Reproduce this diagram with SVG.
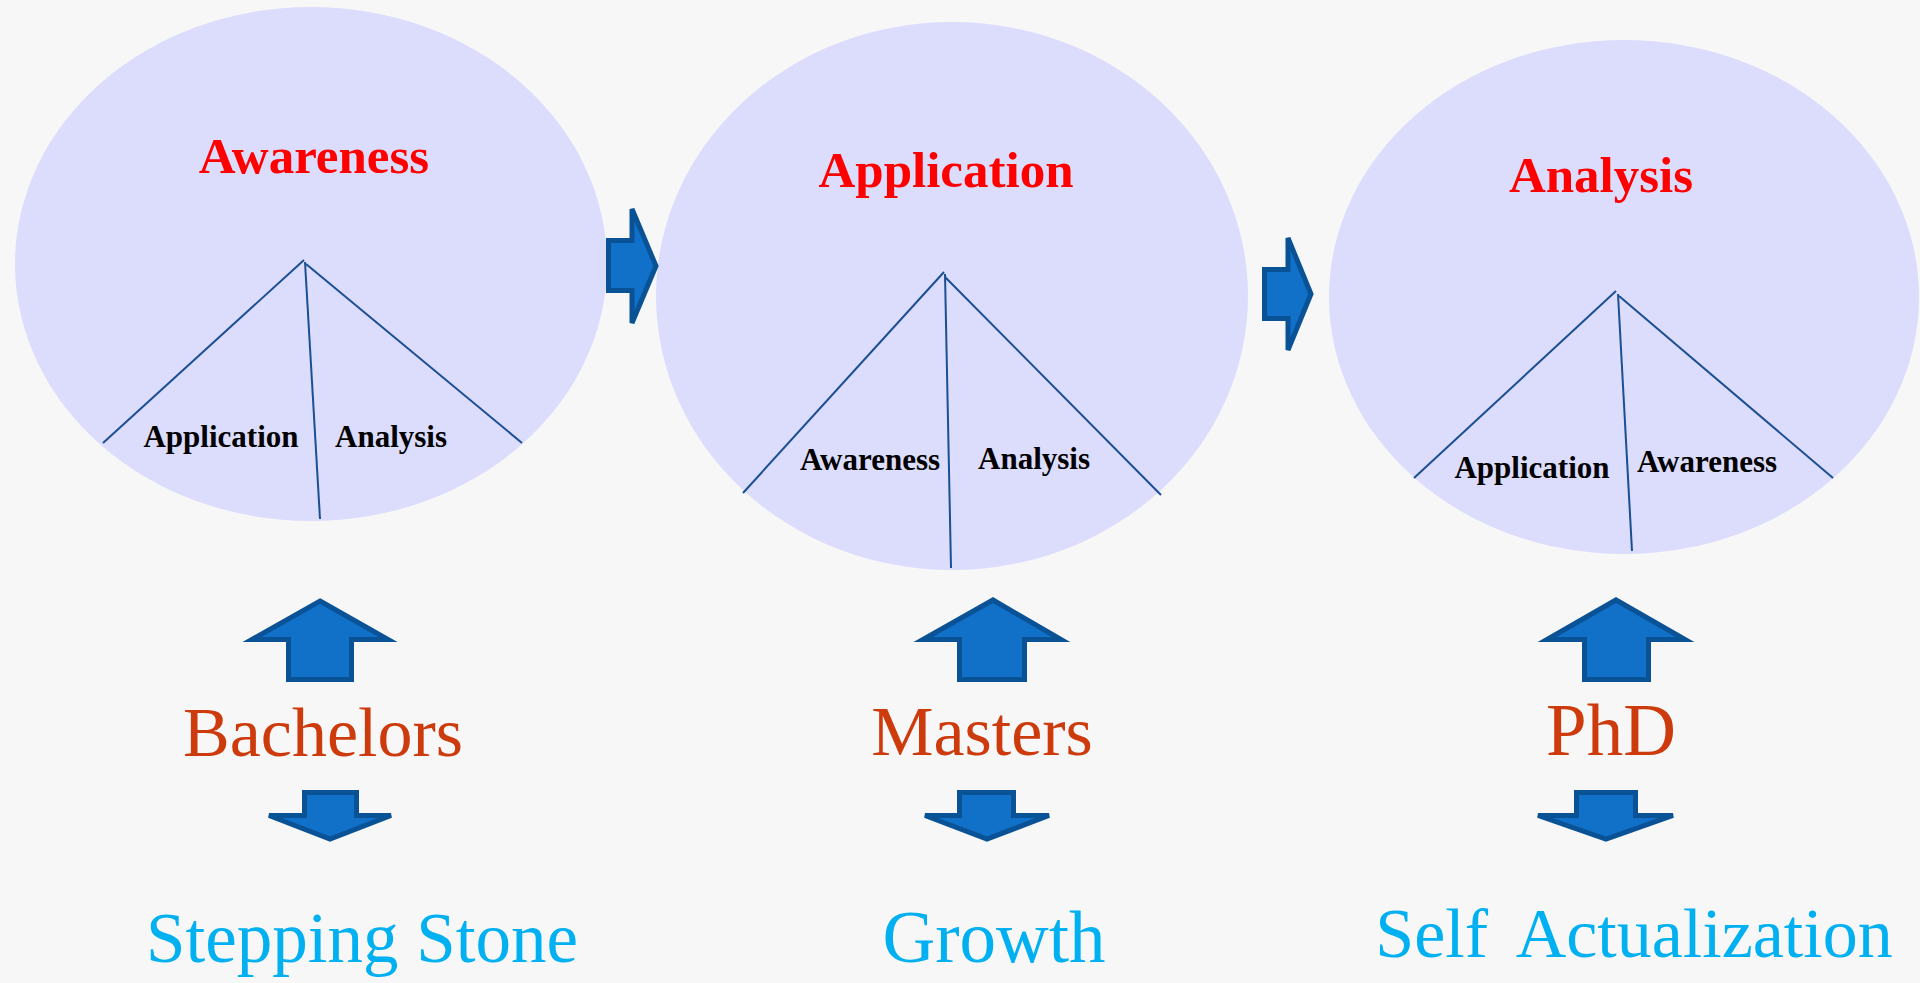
<svg xmlns="http://www.w3.org/2000/svg" width="1920" height="983" viewBox="0 0 1920 983">
<style>
.bg{fill:#F7F7F7}
.ell{fill:#DCDCFD}
.div{stroke:#1B4F92;stroke-width:2;fill:none}
.title{font-family:"Liberation Serif",serif;font-weight:bold;font-size:51px;fill:#FF0000;text-anchor:middle}
.sub{font-family:"Liberation Serif",serif;font-weight:bold;font-size:31px;fill:#000;text-anchor:middle}
.deg{font-family:"Liberation Serif",serif;font-size:70px;fill:#CD3A0C;text-anchor:middle}
.goal{font-family:"Liberation Serif",serif;font-size:71px;fill:#00B0F0;text-anchor:middle}
.arr{fill:#1170C8;stroke:#0A5296;stroke-width:5;stroke-linejoin:miter}
</style>
<rect class="bg" x="0" y="0" width="1920" height="983"/>

<g id="node-awareness">
<ellipse class="ell" cx="311" cy="264" rx="296" ry="257"/>
<text class="title" x="314" y="173">Awareness</text>
<line class="div" x1="304" y1="260" x2="103" y2="443"/>
<line class="div" x1="306" y1="264" x2="522" y2="443"/>
<line class="div" x1="305" y1="262" x2="320" y2="519"/>
<text class="sub" x="221" y="447">Application</text>
<text class="sub" x="391" y="447">Analysis</text>
</g>

<g id="node-application">
<ellipse class="ell" cx="952" cy="296" rx="296" ry="274"/>
<text class="title" x="946" y="187">Application</text>
<line class="div" x1="944" y1="272" x2="743" y2="493"/>
<line class="div" x1="945" y1="277" x2="1161" y2="495"/>
<line class="div" x1="945" y1="274" x2="951" y2="568"/>
<text class="sub" x="870" y="470">Awareness</text>
<text class="sub" x="1034" y="469">Analysis</text>
</g>

<g id="node-analysis">
<ellipse class="ell" cx="1624" cy="297" rx="295" ry="257"/>
<text class="title" x="1601" y="192">Analysis</text>
<line class="div" x1="1616" y1="291" x2="1414" y2="478"/>
<line class="div" x1="1619" y1="296" x2="1833" y2="478"/>
<line class="div" x1="1618" y1="294" x2="1632" y2="551"/>
<text class="sub" x="1532" y="478">Application</text>
<text class="sub" x="1707" y="472">Awareness</text>
</g>

<g id="node-bachelors">
<text class="deg" x="323" y="756">Bachelors</text>
</g>
<g id="node-masters">
<text class="deg" x="982" y="755">Masters</text>
</g>
<g id="node-phd">
<text class="deg" x="1611" y="755" style="font-size:73px">PhD</text>
</g>

<g id="node-stepping-stone">
<text class="goal" x="362" y="962">Stepping Stone</text>
</g>
<g id="node-growth">
<text class="goal" x="994" y="962" style="font-size:73px">Growth</text>
</g>
<g id="node-self-actualization">
<text class="goal" x="1634" y="957" style="font-size:70px;word-spacing:14px">Self Actualization</text>
</g>

<g id="connectors">
<polygon class="arr" points="608.5,240.5 632,240.5 632,209 656,266 632,323 632,290.5 608.5,290.5"/>
<polygon class="arr" points="1264.5,269.5 1288,269.5 1288,238 1311,294 1288,350 1288,318.5 1264.5,318.5"/>
<polygon class="arr" points="320,601 388,639.5 351.5,639.5 351.5,679.5 288.5,679.5 288.5,639.5 252,639.5"/>
<polygon class="arr" points="993,600 1061,639.5 1024.5,639.5 1024.5,679.5 959.5,679.5 959.5,639.5 923,639.5"/>
<polygon class="arr" points="1616,600 1685,639.5 1648.5,639.5 1648.5,679.5 1584.5,679.5 1584.5,639.5 1547,639.5"/>
<polygon class="arr" points="304.5,792.5 356.5,792.5 356.5,815.5 391,815.5 330,839 269,815.5 304.5,815.5"/>
<polygon class="arr" points="959.5,792.5 1013.5,792.5 1013.5,815.5 1049,815.5 987,839 925,815.5 959.5,815.5"/>
<polygon class="arr" points="1576.5,792.5 1635.5,792.5 1635.5,815.5 1673,815.5 1606,839 1538,815.5 1576.5,815.5"/>
</g>
</svg>
